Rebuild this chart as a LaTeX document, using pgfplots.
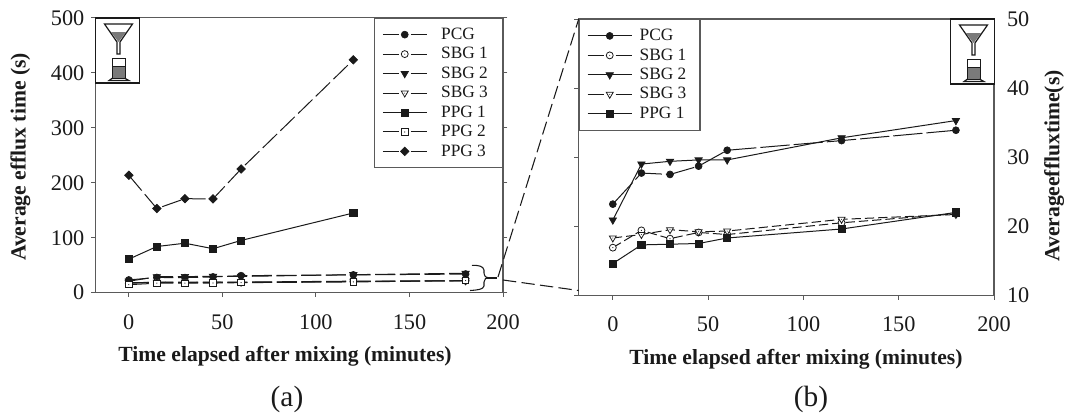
\documentclass[border=0pt]{standalone}
\usepackage{fontspec}
\setmainfont{Liberation Serif}
\usepackage{pgfplots}
\pgfplotsset{compat=1.18}
\definecolor{ink}{HTML}{1A1A1A}
\definecolor{spine}{HTML}{5A5A5A}
\definecolor{fillg}{HTML}{7A7A7A}
\pgfdeclareplotmark{ocd}{%
  \pgfpathcircle{\pgfpointorigin}{\pgfplotmarksize}\pgfusepathqfillstroke
  \pgfscope\pgfsetfillcolor{ink}\pgfpathcircle{\pgfpointorigin}{0.45pt}\pgfusepathqfill\endpgfscope}
\pgfdeclareplotmark{osd}{%
  \pgfpathrectangle{\pgfpoint{-\pgfplotmarksize}{-\pgfplotmarksize}}{\pgfpoint{2\pgfplotmarksize}{2\pgfplotmarksize}}\pgfusepathqfillstroke
  \pgfscope\pgfsetfillcolor{ink}\pgfpathcircle{\pgfpointorigin}{0.45pt}\pgfusepathqfill\endpgfscope}
\pgfdeclareplotmark{otd}{%
  \pgfpathmoveto{\pgfqpoint{0pt}{-\pgfplotmarksize}}%
  \pgfpathlineto{\pgfqpointpolar{30}{\pgfplotmarksize}}%
  \pgfpathlineto{\pgfqpointpolar{150}{\pgfplotmarksize}}%
  \pgfpathclose\pgfusepathqfillstroke
  \pgfscope\pgfsetfillcolor{ink}\pgfpathcircle{\pgfpointorigin}{0.4pt}\pgfusepathqfill\endpgfscope}
\pgfdeclareplotmark{ftd}{%
  \pgfpathmoveto{\pgfqpoint{0pt}{-\pgfplotmarksize}}%
  \pgfpathlineto{\pgfqpointpolar{30}{\pgfplotmarksize}}%
  \pgfpathlineto{\pgfqpointpolar{150}{\pgfplotmarksize}}%
  \pgfpathclose\pgfusepathqfillstroke}
\pgfdeclareplotmark{fdia}{%
  \pgfpathmoveto{\pgfqpoint{0pt}{-\pgfplotmarksize}}%
  \pgfpathlineto{\pgfqpoint{\pgfplotmarksize}{0pt}}%
  \pgfpathlineto{\pgfqpoint{0pt}{\pgfplotmarksize}}%
  \pgfpathlineto{\pgfqpoint{-\pgfplotmarksize}{0pt}}%
  \pgfpathclose\pgfusepathqfillstroke}
\newcommand{\icon}[2]{%
  \begin{scope}[shift={(#1,#2)}]
    \fill[white] (95.3,18) rectangle (139.5,83);
    \fill[fillg] (111,32) -- (126,32) -- (118.5,42) -- cycle;
    \draw[ink,line width=0.9pt] (104.5,24) -- (132.5,24) -- (120,42) -- (120,54) -- (117,54) -- (117,42) -- cycle;
    \fill[fillg] (112,66) rectangle (125,78);
    \draw[ink,line width=0.7pt] (112,58) rectangle (125,78);
    \draw[ink,line width=0.7pt] (112,66) -- (125,66);
    \draw[ink,line width=0.8pt] (112.5,78) -- (109,80.5) -- (129,80.5) -- (124.5,78);
    \draw[ink,line width=1pt] (95.3,18) rectangle (139.5,83);
  \end{scope}}
\tikzset{
  legdash/.style={dash pattern=on 12pt off 9pt},
  legsolid/.style={legdash/.style={solid}},
}
\pgfplotsset{
  common/.style={
    scale only axis, clip=false,
    axis line style={spine,line width=0.9pt},
    tick style={spine,line width=0.8pt},
    tick align=outside, major tick length=3.2pt,
    xtick={0,50,100,150,200}, xmin=-17.9, xmax=200,
    xtick pos=bottom, minor tick num=0, scaled ticks=false,
    /pgf/number format/assume math mode=true,
    /pgf/number format/1000 sep={},
    tick label style={font=\fontsize{16.7}{18}\selectfont,text=ink},
    x tick label style={yshift=-9.5pt},
    label style={font=\fontsize{16.2}{18}\selectfont\bfseries,text=ink},
    legend cell align=left,
    legend style={draw=spine,line width=0.8pt,fill=white,
      font=\fontsize{13}{14}\selectfont, text=ink,
      row sep=3.6pt, inner xsep=6pt, inner ysep=6.75pt,
      nodes={inner sep=0pt,text height=9pt,text depth=2pt}},
    legend image code/.code={%
      \draw[mark repeat=2,mark phase=2,line width=0.75pt,##1,legdash]
        plot coordinates {(0pt,0pt)(16.5pt,0pt)(33pt,0pt)};},
    every axis plot/.append style={ink,line width=0.75pt,mark size=2.6pt},
  },
  mk/.style={mark options={solid,fill=ink,draw=ink,line width=0.5pt}},
  mo/.style={mark options={solid,fill=white,draw=ink,line width=0.6pt}},
  la/.style={dash pattern=on 15pt off 3.5pt},
}
\begin{document}
\begin{tikzpicture}[x=0.75pt,y=-0.75pt]
\path[use as bounding box] (0,0) rectangle (1067,414);
\begin{axis}[common,
  at={(71.475pt,-219.525pt)}, anchor=south west,
  width=305.8pt, height=206.2pt,
  ymin=0, ymax=500, ytick={0,100,200,300,400,500},
  y tick label style={xshift=-1.5pt},
  xlabel={Time elapsed after mixing (minutes)},
  ylabel={Average efflux time (s)},
  xlabel style={at={(axis description cs:0.4653,-0.2302)},anchor=center},
  ylabel style={at={(axis description cs:-0.1835,0.4935)},anchor=center},
  legend style={at={(1,1)},anchor=north east,column sep=0pt,
    /tikz/every odd column/.append style={column sep=10.4pt}},
]
\addplot[la,mark=*,mk] coordinates {(0,23.2)(15,27.7)(30,27.5)(45,28.7)(60,31)(120,32.4)(180,33.9)};
\addlegendentry{PCG}
\addplot[la,mark=ocd,mo] coordinates {(0,16.9)(15,19.4)(30,18.2)(45,19.1)(60,18.8)(120,20.5)(180,21.8)};
\addlegendentry{SBG 1\rule{5pt}{0pt}}
\addplot[la,mark=ftd,mark size=3.2pt,mk] coordinates {(0,20.9)(15,29)(30,29.4)(45,29.6)(60,29.6)(120,32.8)(180,35.3)};
\addlegendentry{SBG 2}
\addplot[la,mark=otd,mark size=3pt,mo] coordinates {(0,18.3)(15,18.8)(30,19.5)(45,19.2)(60,19.3)(120,21)(180,21.7)};
\addlegendentry{SBG 3}
\addplot[solid,legsolid,mark=square*,mark size=2.7pt,mk] coordinates {(0,61)(15,84)(30,90)(45,80)(60,95)(120,145)};
\addlegendentry{PPG 1}
\addplot[la,mark=osd,mark size=2.4pt,mo] coordinates {(0,14.6)(15,17.3)(30,17.4)(45,17.5)(60,18.3)(120,19.6)(180,22)};
\addlegendentry{PPG 2}
\addplot[la,mark=fdia,mark size=3.2pt,mk] coordinates {(0,213.6)(15,153)(30,171)(45,170.5)(60,225)(120,423.5)};
\addlegendentry{PPG 3}
\end{axis}
\begin{axis}[common,
  at={(434.025pt,-221.475pt)}, anchor=south west,
  width=311.5pt, height=207.2pt,
  ymin=10, ymax=50, ytick={10,20,30,40,50},
  ytick pos=left, yticklabel pos=right,
  y tick label style={xshift=3pt},
  xlabel={Time elapsed after mixing (minutes)},
  ylabel={Averageeffluxtime(s)},
  xlabel style={at={(axis description cs:0.5232,-0.2305)},anchor=center},
  ylabel style={at={(axis description cs:1.1445,0.468)},anchor=center},
  legend style={at={(0,1)},anchor=north west,
    /tikz/every odd column/.append style={column sep=5.6pt}},
]
\addplot[legsolid,dash pattern=on 22pt off 3pt,mark=*,mk] coordinates {(0,23.2)(15,27.7)(30,27.5)(45,28.7)(60,31)(120,32.4)(180,33.9)};
\addlegendentry{PCG}
\addplot[dash pattern=on 7pt off 3pt,mark=ocd,mo] coordinates {(0,16.9)(15,19.4)(30,18.2)(45,19.1)(60,18.8)(120,20.5)(180,21.8)};
\addlegendentry{SBG 1\rule{4.2pt}{0pt}}
\addplot[solid,legsolid,mark=ftd,mark size=3.2pt,mk] coordinates {(0,20.9)(15,29)(30,29.4)(45,29.6)(60,29.6)(120,32.8)(180,35.3)};
\addlegendentry{SBG 2}
\addplot[dash pattern=on 7pt off 3pt,mark=otd,mark size=3pt,mo] coordinates {(0,18.3)(15,18.8)(30,19.5)(45,19.2)(60,19.3)(120,21)(180,21.7)};
\addlegendentry{SBG 3}
\addplot[solid,legsolid,mark=square*,mark size=2.7pt,mk] coordinates {(0,14.6)(15,17.3)(30,17.4)(45,17.5)(60,18.3)(120,19.6)(180,22)};
\addlegendentry{PPG 1}
\end{axis}
\icon{0}{0}
\icon{855}{1}
% brace and zoom lines
\draw[ink,line width=0.8pt] (472,265.3) .. controls (479,265.3) and (483,266) .. (484,270)
  -- (484,273) .. controls (484.5,276.5) and (486,277.7) .. (488,277.7)
  .. controls (486,277.7) and (484.5,279) .. (484,282)
  -- (484,286) .. controls (483,289.5) and (478,290) .. (470,290.5);
\draw[ink,line width=1.4pt] (486,277.7) -- (496.7,277.7);
\draw[ink,line width=0.8pt,dash pattern=on 10pt off 4pt] (498,277) -- (578.7,19);
\draw[ink,line width=0.8pt,dash pattern=on 10pt off 4pt] (503,280) -- (578.7,290.5);
\node[font=\fontsize{22}{24}\selectfont,text=ink] at (287,399) {(a)};
\node[font=\fontsize{22}{24}\selectfont,text=ink] at (811,399) {(b)};
\end{tikzpicture}
\end{document}
